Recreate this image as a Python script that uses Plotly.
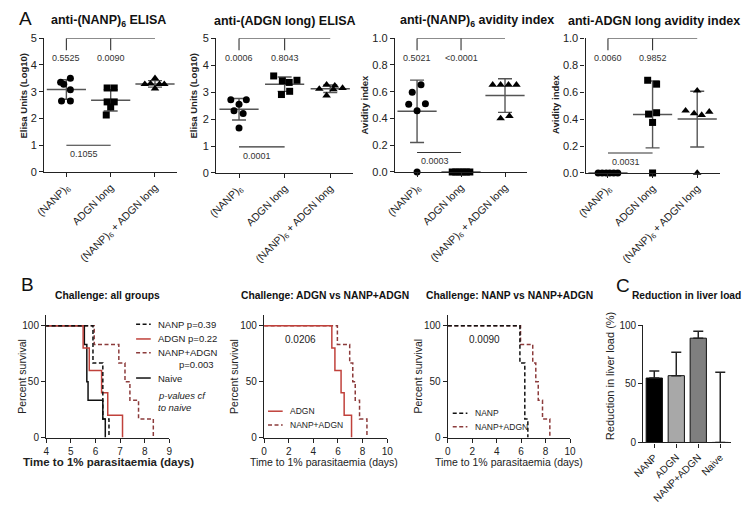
import numpy as np
import plotly.graph_objects as go

W, H = 748, 509
FONT = "Liberation Sans, Arial, sans-serif"
INK = "#222222"
BARC = "#555555"

# ---------------- Panel A data ----------------
cats_A = ["(NANP)<sub>6</sub>", "ADGN long", "(NANP)<sub>6</sub> + ADGN long"]

# anti-(NANP)6 ELISA (log10 units)
a1_nanp = [3.5, 3.35, 3.28, 3.07, 2.65, 2.65]
a1_adgn = [3.14, 3.14, 2.62, 2.62, 2.43, 2.13]
a1_combo = [3.5, 3.28, 3.3, 3.28, 3.28, 3.12]
# anti-(ADGN long) ELISA
a2_nanp = [2.72, 2.72, 2.55, 2.31, 2.21, 1.67]
a2_adgn = [3.6, 3.42, 3.36, 3.44, 2.91, 3.03]
a2_combo = [3.12, 3.27, 3.24, 3.15, 3.1, 2.87]
# anti-(NANP)6 avidity index
a3_nanp = [0.652, 0.596, 0.506, 0.511, 0.458, 0.0]
a3_adgn = [0.0, 0.0, 0.0, 0.0, 0.0, 0.0]
a3_combo = [0.652, 0.652, 0.652, 0.652, 0.40, 0.418]
# anti-ADGN long avidity index
a4_nanp = [0.0, 0.0, 0.0, 0.0, 0.0, 0.0]
a4_adgn = [0.688, 0.659, 0.437, 0.447, 0.375, 0.0]
a4_combo = [0.611, 0.462, 0.442, 0.43, 0.454, 0.0]

# horizontal spread of dots within a category (category units)
j1_nanp = [0.09, -0.13, -0.06, 0.09, -0.11, 0.09]
j1_adgn = [-0.08, 0.08, -0.08, 0.08, 0.0, -0.1]
j1_combo = [0.0, -0.23, -0.1, 0.1, 0.21, 0.0]
j2_nanp = [-0.18, 0.16, 0.0, -0.11, 0.09, 0.0]
j2_adgn = [-0.24, -0.05, 0.1, 0.27, -0.07, 0.11]
j2_combo = [-0.24, -0.08, 0.1, 0.27, 0.07, -0.08]
j3_nanp = [0.09, -0.11, -0.19, 0.19, 0.0, 0.0]
j3_adgn = [-0.2, -0.12, -0.04, 0.04, 0.12, 0.2]
j3_combo = [-0.28, -0.1, 0.08, 0.26, -0.1, 0.1]
j4_nanp = [-0.22, -0.13, -0.04, 0.04, 0.13, 0.22]
j4_adgn = [-0.11, 0.09, -0.09, 0.09, 0.0, 0.0]
j4_combo = [0.0, -0.26, -0.07, 0.1, 0.27, 0.0]

titles_A = ["anti-(NANP)<sub>6</sub> ELISA", "anti-(ADGN long) ELISA",
            "anti-(NANP)<sub>6</sub> avidity index", "anti-ADGN long avidity index"]
ytitles_A = ["Elisa Units (Log10)", "Elisa Units (Log10)", "Avidity index", "Avidity index"]
pvals_top_A = [["0.5525", "0.0090"], ["0.0006", "0.8043"], ["0.5021", "<0.0001"], ["0.0060", "0.9852"]]
pvals_low_A = ["0.1055", "0.0001", "0.0003", "0.0031"]

# ---------------- Panel B data (days to 1% parasitaemia) ----------------
t_nanp = [5.9, 5.9, 6.3, 6.3, 6.3, 6.55]
t_adgn = [5.5, 5.75, 6.25, 6.5, 7.1]
t_combo = [5.95, 6.95, 7.2, 7.4, 7.75, 8.35]
t_naive = [5.55, 5.65, 5.65, 5.7, 6.3, 6.4]
p_adgn_vs_combo = "0.0206"
p_nanp_vs_combo = "0.0090"

# ---------------- Panel C data ----------------
cats_C = ["NANP", "ADGN", "NANP+ADGN", "Naive"]
liver_red = [55, 57, 89, 0]
liver_err = [6, 20, 6, 60]
colors_C = ["#000000", "#a8a8a8", "#7f7f7f", "#ffffff"]

# ---------------- layout helpers ----------------
def xdom(a, b):
    return [a / W, b / W]

def ydom(top, bottom):
    return [1 - bottom / H, 1 - top / H]

def px(x):
    return x / W

def py(y):
    return 1 - y / H

fig = go.Figure()
annotations = []
shapes = []

def text(x, y, s, size=10, bold=False, color=INK, angle=0, xanchor="center", italic=False):
    if bold:
        s = "<b>" + s + "</b>"
    if italic:
        s = "<i>" + s + "</i>"
    annotations.append(dict(x=px(x), y=py(y), xref="paper", yref="paper", text=s, showarrow=False,
                            font=dict(size=size, color=color, family=FONT), textangle=angle,
                            xanchor=xanchor, yanchor="middle"))

axis_common = dict(showline=True, linecolor=INK, linewidth=1.4, ticks="outside", ticklen=4,
                   tickwidth=1.2, tickcolor=INK, showgrid=False, zeroline=False,
                   tickfont=dict(family=FONT, size=10, color=INK))

# Panel A axes pixel boxes: (left, right, top, bottom)
boxes_A = [(34, 170, 33, 170), (210, 350, 33, 171), (393, 528, 33, 170), (588, 725, 33, 171)]
ymax_A = [5, 5, 1.0, 1.0]
low_y_A = [1.0, 0.97, 0.146, 0.148]
title_x_A = [100, 280, 477, 658]
ytitle_pos_A = [(13, 92), (187, 92), (362, 101), (557, 101)]
data_A = [
    [(a1_nanp, j1_nanp), (a1_adgn, j1_adgn), (a1_combo, j1_combo)],
    [(a2_nanp, j2_nanp), (a2_adgn, j2_adgn), (a2_combo, j2_combo)],
    [(a3_nanp, j3_nanp), (a3_adgn, j3_adgn), (a3_combo, j3_combo)],
    [(a4_nanp, j4_nanp), (a4_adgn, j4_adgn), (a4_combo, j4_combo)],
]
symbols = ["circle", "square", "triangle-up"]

for k in range(4):
    ax = "" if k == 0 else str(k + 1)
    xa, ya = "x" + ax, "y" + ax
    l, r, t, b = boxes_A[k]
    ymax = ymax_A[k]
    fig.update_layout(**{
        "xaxis" + ax: dict(axis_common, domain=xdom(l, r), anchor=ya, range=[-0.5, 2.5],
                           tickvals=[0, 1, 2], ticktext=cats_A, tickangle=-45,
                           tickfont=dict(family=FONT, size=10.5, color=INK)),
        "yaxis" + ax: dict(axis_common, domain=ydom(t, b), anchor=xa, range=[0, ymax],
                           dtick=1 if ymax == 5 else 0.2,
                           tickformat="d" if ymax == 5 else ".1f",
                           tickfont=dict(family=FONT, size=11, color=INK)),
    })
    for g, (vals, jit) in enumerate(data_A[k]):
        v = np.array(vals, dtype=float)
        m, sd = v.mean(), v.std(ddof=1)
        fig.add_trace(go.Scatter(x=[g], y=[m], xaxis=xa, yaxis=ya, mode="markers", showlegend=False,
                                 cliponaxis=False,
                                 marker=dict(symbol="line-ew", size=28, line=dict(width=1.5, color=BARC)),
                                 error_y=dict(type="data", array=[sd], width=7, thickness=1.4, color=BARC)))
        fig.add_trace(go.Scatter(x=[g + d for d in jit], y=vals, xaxis=xa, yaxis=ya, mode="markers",
                                 showlegend=False, cliponaxis=False,
                                 marker=dict(symbol=symbols[g], size=7 if g < 2 else 7.5, color="#000000")))
    # significance brackets
    lc = dict(color="#333333", width=1.1)
    shapes.append(dict(type="line", xref=xa, yref=ya, x0=0, x1=2, y0=ymax, y1=ymax, line=lc))
    for g in range(2):
        shapes.append(dict(type="line", xref=xa, yref=ya, x0=g, x1=g, y0=ymax, y1=ymax * 0.91, line=lc))
        annotations.append(dict(x=g, y=ymax * 0.85, xref=xa, yref=ya, text=pvals_top_A[k][g], showarrow=False,
                                font=dict(family=FONT, size=9, color="#333333"), xanchor="center",
                                yanchor="middle"))
    yl = low_y_A[k]
    shapes.append(dict(type="line", xref=xa, yref=ya, x0=0, x1=1, y0=yl, y1=yl, line=lc))
    annotations.append(dict(x=0.4, y=yl, xref=xa, yref=ya, text=pvals_low_A[k], showarrow=False,
                            font=dict(family=FONT, size=9, color="#333333"), xanchor="center",
                            yanchor="top", yshift=-2))
    text(title_x_A[k], 15, titles_A[k], size=12.5, bold=True, color="#111111")
    text(ytitle_pos_A[k][0], ytitle_pos_A[k][1], ytitles_A[k], size=9.5, bold=True, angle=-90)

text(15, 13, "A", size=19, color="#111111")
text(17, 285, "B", size=19, color="#111111")
text(626, 286, "C", size=19, color="#111111")

# ---------------- Panel B ----------------
def km(times, start=0.0):
    t = np.sort(np.array(times, dtype=float))
    n = len(t)
    xs, ys = [start], [100.0]
    for u in np.unique(t):
        xs.append(u)
        ys.append(100.0 * np.sum(t > u) / n)
    return xs, ys

C_NANP = "#111111"
C_ADGN = "#c0413b"
C_COMBO = "#8c3b3b"
C_NAIVE = "#111111"
DASH = "4px,2.5px"

boxes_B = [(36, 162, 316, 442), (259, 385, 316, 442), (447, 572, 316, 442)]
xr_B = [[4, 9], [0, 10], [0, 10]]
curves_B = [
    [(t_combo, C_COMBO, DASH), (t_naive, C_NAIVE, "solid"), (t_adgn, C_ADGN, "solid"), (t_nanp, C_NANP, DASH)],
    [(t_combo, C_COMBO, DASH), (t_adgn, C_ADGN, "solid")],
    [(t_combo, C_COMBO, DASH), (t_nanp, C_NANP, DASH)],
]
titles_B = ["Challenge: all groups", "Challenge: ADGN vs NANP+ADGN", "Challenge: NANP vs NANP+ADGN"]
title_x_B = [99, 321, 510]
xtitle_x_B = [100, 320, 510]
ytitle_x_B = [11, 228, 417]

for k in range(3):
    n = k + 5
    ax = str(n)
    xa, ya = "x" + ax, "y" + ax
    l, r, t, b = boxes_B[k]
    fig.update_layout(**{
        "xaxis" + ax: dict(axis_common, domain=xdom(l, r), anchor=ya, range=xr_B[k],
                           dtick=1 if k == 0 else 2),
        "yaxis" + ax: dict(axis_common, domain=ydom(t, b), anchor=xa, range=[0, 110],
                           tickvals=[0, 50, 100]),
    })
    for times, col, dash in curves_B[k]:
        xs, ys = km(times, 0.0)
        fig.add_trace(go.Scatter(x=xs, y=ys, xaxis=xa, yaxis=ya, mode="lines", line_shape="hv",
                                 showlegend=False, line=dict(color=col, width=1.5, dash=dash)))
    text(title_x_B[k], 297, titles_B[k], size=10.3, bold=True, color="#111111")
    if k == 0:
        text(xtitle_x_B[k], 467, "Time to 1% parasitaemia (days)", size=11.5, bold=True)
    else:
        text(xtitle_x_B[k], 467, "Time to 1% parasitaemia (days)", size=10.5)
    text(ytitle_x_B[k], 379, "Percent survival", size=10.5, angle=-90)

# legend panel B1 (drawn by hand to match the compact GraphPad style)
def leg_line(x0, x1, y, col, dash):
    shapes.append(dict(type="line", xref="paper", yref="paper", x0=px(x0), x1=px(x1), y0=py(y), y1=py(y),
                       line=dict(color=col, width=1.5, dash=dash)))

leg1 = [("NANP p=0.39", C_NANP, DASH, 326), ("ADGN p=0.22", C_ADGN, "solid", 341),
        ("NANP+ADGN", C_COMBO, DASH, 355), ("Naive", C_NAIVE, "solid", 381)]
for lab, col, dash, y in leg1:
    leg_line(128, 143, y, col, dash)
    text(148, y, lab, size=9.5, xanchor="left")
text(170, 367, "p=0.003", size=9.5, xanchor="left")
text(148, 399, "p-values cf", size=9.5, xanchor="left", italic=True)
text(148, 411, "to naive", size=9.5, xanchor="left", italic=True)

leg2 = [("ADGN", C_ADGN, "solid", 415), ("NANP+ADGN", C_COMBO, DASH, 429)]
for lab, col, dash, y in leg2:
    leg_line(263, 278, y, col, dash)
    text(283, y, lab, size=8.5, xanchor="left")
leg3 = [("NANP", C_NANP, DASH, 417), ("NANP+ADGN", C_COMBO, DASH, 431)]
for lab, col, dash, y in leg3:
    leg_line(452, 467, y, col, dash)
    text(473, y, lab, size=8.5, xanchor="left")
text(296, 342, p_adgn_vs_combo, size=10)
text(485, 342, p_nanp_vs_combo, size=10)

# ---------------- Panel C ----------------
fig.update_layout(
    xaxis8=dict(axis_common, domain=xdom(647, 737), anchor="y8", range=[-0.5, 3.5],
                tickvals=[0, 1, 2, 3], ticktext=cats_C, tickangle=-45,
                tickfont=dict(family=FONT, size=10, color=INK)),
    yaxis8=dict(axis_common, domain=ydom(327, 447), anchor="x8", range=[0, 100], tickvals=[0, 50, 100]),
)
fig.add_trace(go.Bar(x=list(range(len(cats_C))), y=liver_red, xaxis="x8", yaxis="y8", width=0.74,
                     marker=dict(color=colors_C, line=dict(color="#111111", width=1)), showlegend=False,
                     error_y=dict(type="data", symmetric=False, array=liver_err,
                                  arrayminus=[0] * len(liver_err), width=5, thickness=1.5, color="#222222")))
text(691, 297, "Reduction in liver load", size=10.2, bold=True, color="#111111")
text(613, 379, "Reduction in liver load (%)", size=11, angle=-90)

fig.update_layout(width=W, height=H, margin=dict(l=0, r=0, t=0, b=0), plot_bgcolor="white",
                  paper_bgcolor="white", annotations=annotations, shapes=shapes, showlegend=False,
                  font=dict(family=FONT, color=INK))

fig.write_html("out.html", config={"displayModeBar": False},
               post_script="document.body.style.margin='0px';")
